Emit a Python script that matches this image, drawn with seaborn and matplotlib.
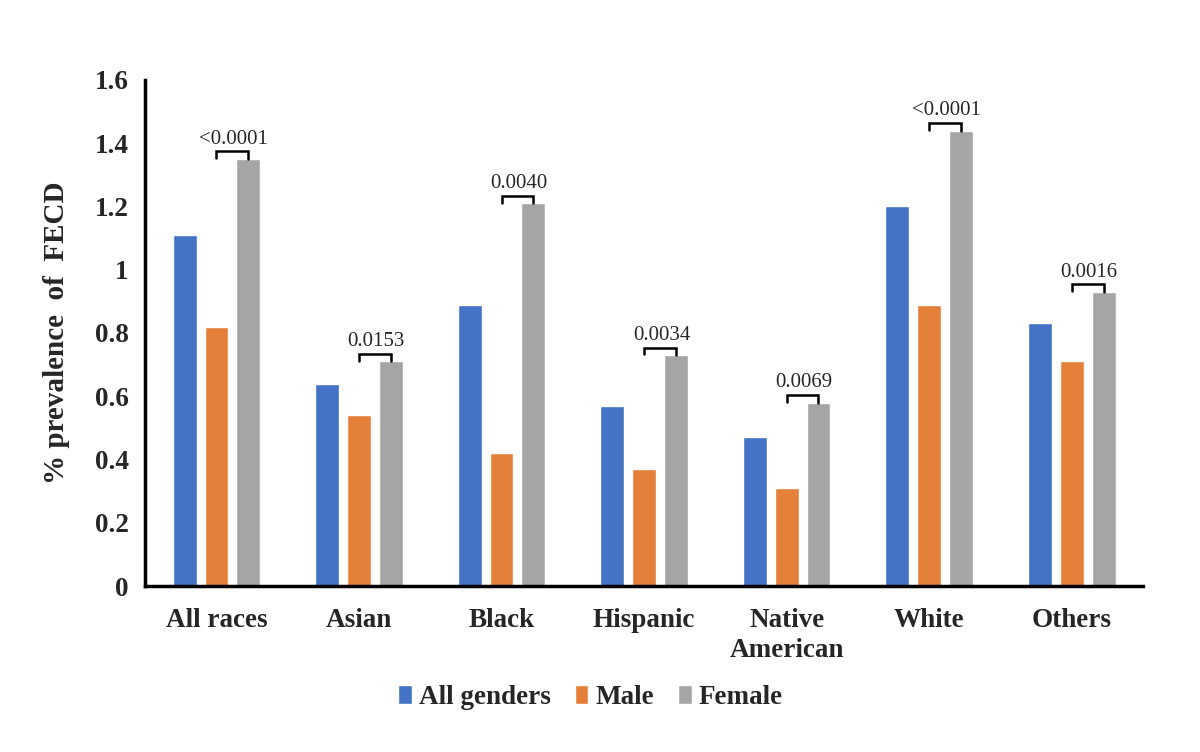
import pandas as pd
import matplotlib.pyplot as plt
import seaborn as sns

# values
races = ["All races", "Asian", "Black", "Hispanic", "Native\nAmerican", "White", "Others"]
all_genders = [1.11, 0.64, 0.89, 0.57, 0.47, 1.20, 0.83]
male = [0.82, 0.54, 0.42, 0.37, 0.31, 0.89, 0.71]
female = [1.35, 0.71, 1.21, 0.73, 0.58, 1.44, 0.93]
p_values = ["<0.0001", "0.0153", "0.0040", "0.0034", "0.0069", "<0.0001", "0.0016"]
groups = ["All genders", "Male", "Female"]
colors = ["#4472C4", "#E5803A", "#A5A5A5"]

df = pd.DataFrame({
    "Race": races * 3,
    "Group": [g for g in groups for _ in races],
    "Prevalence": all_genders + male + female,
})

sns.set_style("white")
plt.rcParams["font.family"] = ["Liberation Serif", "DejaVu Serif"]

fig = plt.figure(figsize=(12, 7.52), dpi=100)
ax = fig.add_axes([0.121, 0.2207, 0.8315, 0.673])

sns.barplot(data=df, x="Race", y="Prevalence", hue="Group", hue_order=groups,
            palette=colors, width=0.67, gap=0.25, saturation=1, ax=ax, legend=True)

# p-value brackets between Male and Female bars
male_bars = ax.containers[1]
female_bars = ax.containers[2]
for mb, fb, val, p in zip(male_bars, female_bars, female, p_values):
    x0 = mb.get_x() + mb.get_width() / 2
    x1 = fb.get_x() + fb.get_width() / 2
    y = val + 0.024
    ax.plot([x0, x0, x1, x1], [y - 0.022, y, y, val], color="black", lw=1.8,
            solid_joinstyle="miter")
    ax.text((x0 + x1) / 2 + 0.01, y + 0.008, p, ha="center", va="bottom", fontsize=15)

ax.set_xlim(-0.5, len(races) - 0.5)
ax.set_ylim(0, 1.6)
ax.set_yticks([0, 0.2, 0.4, 0.6, 0.8, 1, 1.2, 1.4, 1.6])
ax.set_yticklabels(["0", "0.2", "0.4", "0.6", "0.8", "1", "1.2", "1.4", "1.6"])
ax.tick_params(axis="y", length=0, labelsize=19.5, pad=12)
ax.tick_params(axis="x", length=0, labelsize=19.5, pad=16)
for lbl in ax.get_xticklabels() + ax.get_yticklabels():
    lbl.set_fontweight("bold")
    lbl.set_linespacing(1.25)
ax.set_xlabel("")
ax.set_ylabel("% prevalence  of  FECD", fontsize=21, fontweight="bold", labelpad=18)

for side in ["top", "right"]:
    ax.spines[side].set_visible(False)
for side in ["left", "bottom"]:
    ax.spines[side].set_color("black")
    ax.spines[side].set_linewidth(2.5)

handles, labels = ax.get_legend_handles_labels()
ax.get_legend().remove()
fig.legend(handles, labels, loc="center", bbox_to_anchor=(0.492, 0.073), ncol=3,
           frameon=False, handlelength=0.5, handleheight=0.7, handletextpad=0.25,
           columnspacing=0.9, prop={"weight": "bold", "size": 19.5})

fig.savefig("out.png", dpi=100)
